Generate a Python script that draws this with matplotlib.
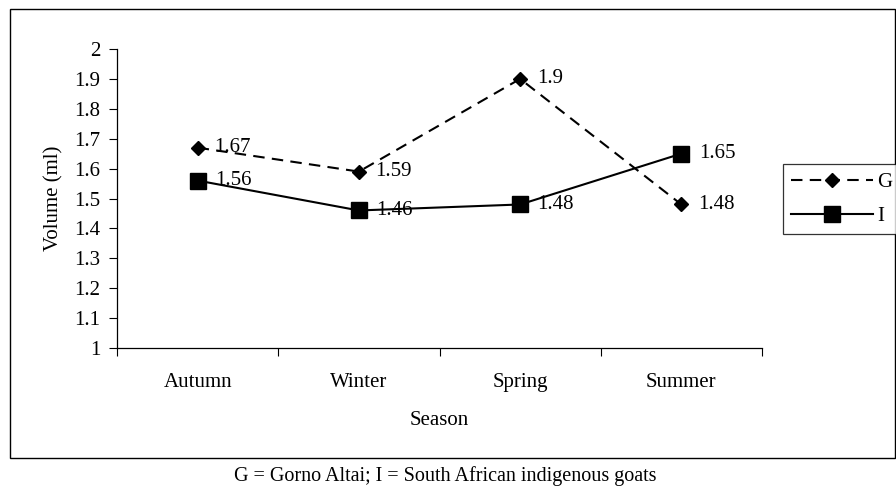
import matplotlib
matplotlib.use("Agg")
import matplotlib.pyplot as plt
from matplotlib.patches import Rectangle

seasons = ["Autumn", "Winter", "Spring", "Summer"]
g_values = [1.67, 1.59, 1.9, 1.48]
i_values = [1.56, 1.46, 1.48, 1.65]
y_ticks = [1, 1.1, 1.2, 1.3, 1.4, 1.5, 1.6, 1.7, 1.8, 1.9, 2]
y_tick_labels = ["1", "1.1", "1.2", "1.3", "1.4", "1.5", "1.6", "1.7", "1.8", "1.9", "2"]

plt.rcParams['font.family'] = ['Liberation Serif', 'DejaVu Serif']

W, H = 896, 497
FS = 15
fig = plt.figure(figsize=(W / 100, H / 100), dpi=100)

# outer chart border
fig.patches.append(Rectangle((10 / W, 1 - 458 / H), (895 - 10) / W, (458 - 9) / H,
                             transform=fig.transFigure, fill=False, edgecolor='black',
                             linewidth=1.0))

ax = fig.add_axes([117 / W, 1 - 348 / H, (762 - 117) / W, (348 - 49) / H])
x = list(range(len(seasons)))
ax.plot(x, g_values, color='black', linestyle=(0, (5.5, 3.5)), linewidth=1.5,
        marker='D', markersize=7, label='G', clip_on=False)
ax.plot(x, i_values, color='black', linestyle='-', linewidth=1.5,
        marker='s', markersize=11, label='I', clip_on=False)

for xi, v in zip(x, g_values):
    ax.annotate(f"{v:g}", (xi, v), xytext=(12, 0), textcoords='offset points',
                ha='left', va='center', fontsize=FS)
for xi, v in zip(x, i_values):
    ax.annotate(f"{v:g}", (xi, v), xytext=(12.5, 0), textcoords='offset points',
                ha='left', va='center', fontsize=FS)

ax.set_xlim(-0.5, 3.5)
ax.set_ylim(1, 2)
ax.set_yticks(y_ticks)
ax.set_yticklabels(y_tick_labels, fontsize=FS)
ax.set_xticks([-0.5, 0.5, 1.5, 2.5, 3.5])
ax.set_xticklabels([])
ax.set_xticks(x, minor=True)
ax.set_xticklabels(seasons, minor=True, fontsize=FS)
ax.tick_params(axis='x', which='major', direction='out', length=5.5, width=0.8)
ax.tick_params(axis='x', which='minor', length=0, pad=18)
ax.tick_params(axis='y', direction='out', length=5.5, width=0.8, pad=6.5)
for s in ['top', 'right']:
    ax.spines[s].set_visible(False)
for s in ['left', 'bottom']:
    ax.spines[s].set_linewidth(0.9)
ax.set_xlabel("Season", fontsize=FS, labelpad=14)
ax.set_ylabel("Volume (ml)", fontsize=FS, labelpad=8)

leg = fig.legend(loc='upper left', bbox_to_anchor=(783 / W, 1 - 164 / H),
                 bbox_transform=fig.transFigure, frameon=True, fancybox=False,
                 edgecolor='black', fontsize=FS, handlelength=3.9, borderpad=0.4,
                 labelspacing=0.7, handletextpad=0.2, borderaxespad=0)
leg.get_frame().set_linewidth(0.9)

fig.text(445 / W, 1 - 476 / H, "G = Gorno Altai; I = South African indigenous goats",
         ha='center', va='center', fontsize=14.5)

fig.savefig("out.png", dpi=100)
